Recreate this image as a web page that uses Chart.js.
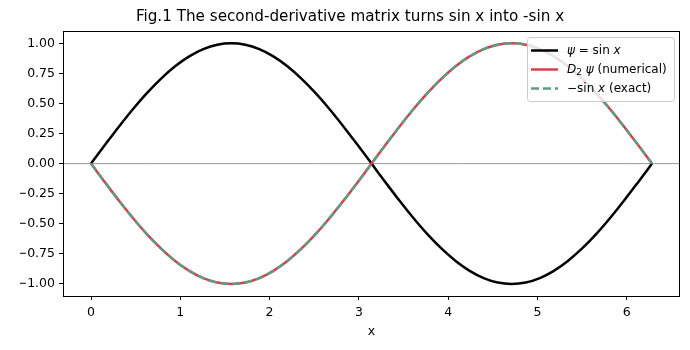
<!DOCTYPE html>
<html>
<head>
<meta charset="utf-8">
<style>
  html, body { margin: 0; padding: 0; background: #fff; }
</style>
</head>
<body>
<canvas id="sinChart" width="690" height="350"></canvas>

<script src="https://cdn.jsdelivr.net/npm/chart.js"></script>

<script>
// sample points (x from 0 to 2π)
const xValues = [0, 0.157, 0.314, 0.471, 0.628, 0.785, 0.942, 1.100, 1.257, 1.414, 1.571,
  1.728, 1.885, 2.042, 2.199, 2.356, 2.513, 2.670, 2.827, 2.985, 3.142,
  3.299, 3.456, 3.613, 3.770, 3.927, 4.084, 4.241, 4.398, 4.555, 4.712,
  4.869, 5.027, 5.184, 5.341, 5.498, 5.655, 5.812, 5.969, 6.126, 6.283];

const psiValues = [0, 0.156, 0.309, 0.454, 0.588, 0.707, 0.809, 0.891, 0.951, 0.988, 1.000,
  0.988, 0.951, 0.891, 0.809, 0.707, 0.588, 0.454, 0.309, 0.156, 0,
  -0.156, -0.309, -0.454, -0.588, -0.707, -0.809, -0.891, -0.951, -0.988, -1.000,
  -0.988, -0.951, -0.891, -0.809, -0.707, -0.588, -0.454, -0.309, -0.156, 0];

const d2psiValues = [0, -0.156, -0.309, -0.454, -0.588, -0.707, -0.809, -0.891, -0.951, -0.988, -1.000,
  -0.988, -0.951, -0.891, -0.809, -0.707, -0.588, -0.454, -0.309, -0.156, 0,
  0.156, 0.309, 0.454, 0.588, 0.707, 0.809, 0.891, 0.951, 0.988, 1.000,
  0.988, 0.951, 0.891, 0.809, 0.707, 0.588, 0.454, 0.309, 0.156, 0];

const exactValues = [0, -0.156, -0.309, -0.454, -0.588, -0.707, -0.809, -0.891, -0.951, -0.988, -1.000,
  -0.988, -0.951, -0.891, -0.809, -0.707, -0.588, -0.454, -0.309, -0.156, 0,
  0.156, 0.309, 0.454, 0.588, 0.707, 0.809, 0.891, 0.951, 0.988, 1.000,
  0.988, 0.951, 0.891, 0.809, 0.707, 0.588, 0.454, 0.309, 0.156, 0];

const xTicks = [0, 1, 2, 3, 4, 5, 6];
const yTicks = [-1.00, -0.75, -0.50, -0.25, 0.00, 0.25, 0.50, 0.75, 1.00];
const xRange = [-0.314, 6.597];
const yRange = [-1.1, 1.1];

const titleText = 'Fig.1 The second-derivative matrix turns sin x into -sin x';
const seriesLabels = ['ψ = sin x', 'D₂ ψ (numerical)', '−sin x (exact)'];
// legend labels as text pieces (it = italic, sub = subscript)
const legendPieces = [
  [{ t: 'ψ', it: true }, { t: ' = sin ' }, { t: 'x', it: true }],
  [{ t: 'D', it: true }, { t: '2', sub: true }, { t: ' ' }, { t: 'ψ', it: true }, { t: ' (numerical)' }],
  [{ t: '−sin ' }, { t: 'x', it: true }, { t: ' (exact)' }]
];

const FONT = "'DejaVu Sans', sans-serif";
const colBlack = '#000000';
const colRed = '#dc3c50';
const colGreen = '#5f9c80';

function toPoints(xs, ys) {
  return xs.map((x, i) => ({ x: x, y: ys[i] }));
}

function fmtY(v) {
  const s = Math.abs(v).toFixed(2);
  return v < 0 ? '−' + s : s;
}

// box around the axes, like matplotlib
const framePlugin = {
  id: 'frame',
  afterDatasetsDraw(chart) {
    const a = chart.chartArea;
    const ctx = chart.ctx;
    ctx.save();
    ctx.strokeStyle = '#000';
    ctx.lineWidth = 1;
    ctx.strokeRect(Math.round(a.left) + 0.5, Math.round(a.top) + 0.5,
      Math.round(a.right - a.left) - 1, Math.round(a.bottom - a.top));
    ctx.restore();
  }
};

// legend inside the axes at upper right
const legendPlugin = {
  id: 'innerLegend',
  afterDraw(chart) {
    const a = chart.chartArea;
    const ctx = chart.ctx;
    const boxW = 147, boxH = 64;
    const bx = Math.round(a.right - 6 - boxW);
    const by = Math.round(a.top + 6);
    ctx.save();
    ctx.beginPath();
    if (ctx.roundRect) ctx.roundRect(bx + 0.5, by + 0.5, boxW, boxH, 3);
    else ctx.rect(bx + 0.5, by + 0.5, boxW, boxH);
    ctx.fillStyle = 'rgba(255,255,255,0.8)';
    ctx.fill();
    ctx.strokeStyle = '#cccccc';
    ctx.lineWidth = 1;
    ctx.stroke();

    const dsList = [chart.data.datasets[0], chart.data.datasets[1], chart.data.datasets[2]];
    dsList.forEach((ds, i) => {
      const y = by + 13.5 + i * 19;
      ctx.beginPath();
      ctx.setLineDash(ds.borderDash || []);
      ctx.strokeStyle = ds.borderColor;
      ctx.lineWidth = ds.borderWidth;
      ctx.moveTo(bx + 4, y);
      ctx.lineTo(bx + 31, y);
      ctx.stroke();
      ctx.setLineDash([]);

      let tx = bx + 40;
      ctx.fillStyle = '#000';
      ctx.textBaseline = 'middle';
      ctx.textAlign = 'left';
      legendPieces[i].forEach(p => {
        if (p.sub) {
          ctx.font = '9px ' + FONT;
          ctx.fillText(p.t, tx, y + 3);
        } else {
          ctx.font = (p.it ? 'italic ' : '') + '12px ' + FONT;
          ctx.fillText(p.t, tx, y);
        }
        tx += ctx.measureText(p.t).width;
      });
    });
    ctx.restore();
  }
};

const ctxSin = document.getElementById('sinChart').getContext('2d');

new Chart(ctxSin, {
  type: 'line',
  data: {
    datasets: [
      {
        label: seriesLabels[0],
        data: toPoints(xValues, psiValues),
        borderColor: colBlack,
        borderWidth: 2.5,
        pointRadius: 0,
        cubicInterpolationMode: 'monotone',
        fill: false,
        order: 3
      },
      {
        label: seriesLabels[1],
        data: toPoints(xValues, d2psiValues),
        borderColor: colRed,
        borderWidth: 2.5,
        pointRadius: 0,
        cubicInterpolationMode: 'monotone',
        fill: false,
        order: 2
      },
      {
        label: seriesLabels[2],
        data: toPoints(xValues, exactValues),
        borderColor: colGreen,
        borderWidth: 2.5,
        borderDash: [8, 4],
        pointRadius: 0,
        cubicInterpolationMode: 'monotone',
        fill: false,
        order: 1
      },
      {
        label: 'zero',
        data: toPoints(xRange, [0, 0]),
        borderColor: '#999999',
        borderWidth: 1,
        pointRadius: 0,
        fill: false,
        order: 4
      }
    ]
  },
  options: {
    responsive: false,
    animation: false,
    layout: { padding: { left: 20, right: 10, top: 0, bottom: 0 } },
    plugins: {
      legend: { display: false },
      tooltip: { enabled: false },
      title: {
        display: true,
        text: titleText,
        color: '#000',
        font: { family: FONT, size: 15.2, weight: 'normal' },
        padding: { top: 8, bottom: 5 }
      }
    },
    scales: {
      x: {
        type: 'linear',
        min: xRange[0],
        max: xRange[1],
        afterBuildTicks(s) { s.ticks = xTicks.map(v => ({ value: v })); },
        afterFit(s) { s.height = 54; },
        grid: { drawOnChartArea: false, drawTicks: true, tickLength: 4, color: '#000' },
        border: { display: false },
        ticks: {
          color: '#000',
          font: { family: FONT, size: 12.5 },
          padding: 5,
          maxRotation: 0,
          callback: v => String(v)
        },
        title: {
          display: true,
          text: 'x',
          color: '#000',
          font: { family: FONT, size: 12.5 },
          padding: { top: 4, bottom: 11 }
        }
      },
      y: {
        min: yRange[0],
        max: yRange[1],
        afterBuildTicks(s) { s.ticks = yTicks.map(v => ({ value: v })); },
        afterFit(s) { s.width = 43; },
        grid: { drawOnChartArea: false, drawTicks: true, tickLength: 4, color: '#000' },
        border: { display: false },
        ticks: {
          color: '#000',
          font: { family: FONT, size: 12.5 },
          padding: 4,
          callback: v => fmtY(v)
        }
      }
    }
  },
  plugins: [framePlugin, legendPlugin]
});
</script>
</body>
</html>
